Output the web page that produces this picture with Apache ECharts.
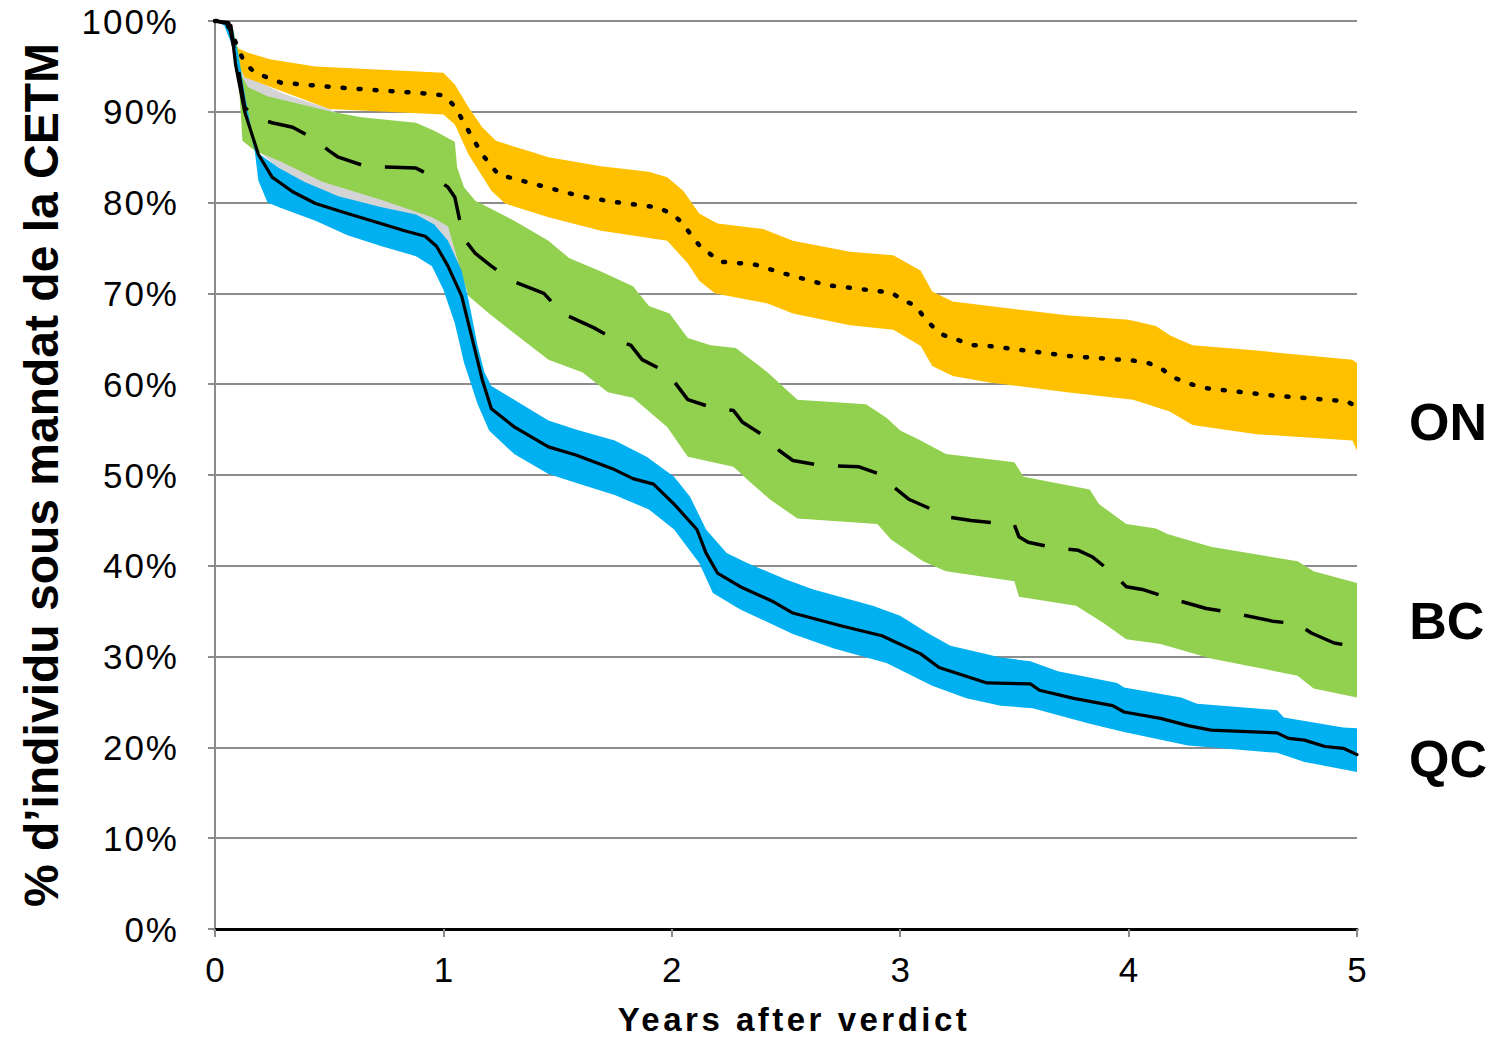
<!DOCTYPE html>
<html>
<head>
<meta charset="utf-8">
<script src="https://cdn.jsdelivr.net/npm/echarts@6/dist/echarts.min.js"></script>
<style>
html,body{margin:0;padding:0;background:#fff;overflow:hidden;}
#chart{width:1491px;height:1041px;}
</style>
</head>
<body>
<div id="chart"></div>
<script>
// ---- Data (years after verdict, % under mandate) ----
const onMid = [[0,100],[0.04,100],[0.07,99],[0.1,97],[0.13,95.4],[0.175,94.3],[0.29,93.2],[0.58,92.6],[0.93,92],[1.0,91.8],[1.05,90.6],[1.11,87.9],[1.17,85.3],[1.24,83.1],[1.39,82.1],[1.6,80.7],[1.74,80.1],[1.93,79.5],[2.0,78.8],[2.04,77.9],[2.08,76.6],[2.12,75.3],[2.21,73.5],[2.36,73.2],[2.49,72.2],[2.68,70.9],[2.96,70.1],[3.01,69.3],[3.07,68.6],[3.1,67.5],[3.14,66.4],[3.19,65.4],[3.32,64.3],[3.39,64.2],[3.74,63.1],[4.02,62.6],[4.09,62.3],[4.15,61.6],[4.2,60.7],[4.26,60.1],[4.33,59.6],[4.61,58.8],[4.96,58.1],[5,57.4]];
const onUpper = [[0,100],[0.05,100],[0.08,99],[0.1,97],[0.145,96.5],[0.24,95.8],[0.44,95],[1.0,94.3],[1.05,93],[1.11,90.5],[1.17,88.3],[1.23,86.8],[1.37,85.7],[1.46,85],[1.69,84],[1.9,83.4],[1.98,82.8],[2.05,81.3],[2.12,78.8],[2.2,77.7],[2.4,77.1],[2.53,75.8],[2.78,74.6],[2.97,74.2],[3.09,72.5],[3.14,70.2],[3.23,69.1],[3.39,68.6],[3.73,67.6],[4.0,67.1],[4.12,66.4],[4.18,65.4],[4.28,64.3],[4.56,63.7],[4.98,62.7],[5,62.3]];
const onLower = [[0,100],[0.05,99.5],[0.08,97],[0.1,95.5],[0.13,93.8],[0.5,90.3],[1.0,89.7],[1.05,88.6],[1.11,85.3],[1.21,81.3],[1.27,79.9],[1.46,78.4],[1.69,76.9],[1.98,75.8],[2.07,73.3],[2.12,71.4],[2.19,70],[2.42,68.9],[2.53,67.8],[2.78,66.5],[2.97,66],[3.09,64.2],[3.14,62],[3.23,60.9],[3.39,60.2],[3.73,59.1],[4.02,58.3],[4.18,57],[4.28,55.5],[4.56,54.5],[4.98,53.8],[5,52.7]];

const bcMid = [[0,100],[0.06,99.8],[0.1,95],[0.13,90.5],[0.18,89.3],[0.25,88.8],[0.34,88.3],[0.42,87.2],[0.5,85.7],[0.54,85],[0.66,84],[0.78,83.9],[0.88,83.8],[0.95,82.9],[1.02,81.7],[1.05,80.6],[1.07,78.2],[1.1,75.7],[1.14,74.4],[1.21,73],[1.3,71.4],[1.44,70],[1.52,67.8],[1.66,66.2],[1.76,64.8],[1.82,64.3],[1.87,62.7],[1.98,61.3],[2.07,58.3],[2.18,57.4],[2.27,57.1],[2.31,55.8],[2.41,54.2],[2.47,52.7],[2.53,51.6],[2.64,51.1],[2.82,50.9],[2.92,50],[2.96,48.9],[3.04,47.3],[3.14,46.2],[3.2,45.4],[3.31,45],[3.5,44.5],[3.52,43.2],[3.56,42.6],[3.67,42],[3.78,41.7],[3.84,41],[3.92,39.4],[3.99,37.7],[4.06,37.4],[4.17,36.5],[4.34,35.3],[4.46,34.8],[4.63,33.9],[4.74,33.6],[4.8,32.6],[4.9,31.5],[4.97,31.2]];
const bcUpper = [[0,100],[0.06,100],[0.1,97],[0.12,93.8],[0.145,92.7],[0.23,91.7],[0.51,90],[0.64,89.4],[0.88,88.8],[0.96,87.9],[1.05,86.7],[1.06,83.9],[1.09,81.7],[1.14,80.2],[1.31,78],[1.46,75.8],[1.55,73.9],[1.69,72.4],[1.83,70.8],[1.9,68.6],[1.99,67.8],[2.07,65.1],[2.17,64.3],[2.28,64],[2.42,61.3],[2.55,58.3],[2.85,57.8],[2.94,56.3],[3.0,54.9],[3.09,53.8],[3.2,52.3],[3.5,51.4],[3.54,49.8],[3.83,48.4],[3.87,46.8],[3.99,44.6],[4.12,44.1],[4.17,43.5],[4.36,42.1],[4.74,40.5],[4.81,39.4],[5,38.1]];
const bcLower = [[0,100],[0.06,99.5],[0.1,95],[0.12,86.8],[0.175,85.7],[0.28,84.6],[0.47,82.3],[0.73,80.3],[0.95,78.4],[1.02,77.4],[1.08,72.2],[1.11,69.7],[1.2,67.8],[1.31,65.6],[1.46,62.7],[1.61,61.3],[1.72,59.1],[1.83,58.5],[1.98,55.3],[2.07,52],[2.27,50.9],[2.33,49.5],[2.43,47.3],[2.55,45.2],[2.9,44.6],[2.96,42.9],[3.1,40.5],[3.2,39.4],[3.5,38.3],[3.52,36.6],[3.77,35.6],[3.89,33.7],[3.99,31.9],[4.14,31.4],[4.36,29.8],[4.74,27.9],[4.81,26.5],[5,25.5]];

const qcMid = [[0,100],[0.04,99.8],[0.07,99.5],[0.09,95.2],[0.13,90],[0.19,85.3],[0.25,82.8],[0.34,81.2],[0.44,79.9],[0.58,78.8],[0.7,77.9],[0.83,76.9],[0.92,76.3],[0.97,75.2],[1.02,73],[1.08,69.7],[1.13,64.6],[1.17,60.5],[1.21,57.3],[1.31,55.3],[1.46,53.1],[1.58,52.2],[1.74,50.7],[1.83,49.6],[1.92,49],[2.01,46.8],[2.11,44],[2.15,41.4],[2.2,39.2],[2.3,37.7],[2.44,36.1],[2.53,34.8],[2.74,33.4],[2.92,32.3],[3.09,30.3],[3.17,28.8],[3.38,27.1],[3.57,27],[3.61,26.3],[3.76,25.4],[3.93,24.6],[3.98,23.9],[4.14,23.2],[4.26,22.4],[4.36,21.9],[4.65,21.6],[4.7,21],[4.77,20.8],[4.86,20.1],[4.94,19.9],[5,19.2]];
const qcUpper = [[0,100],[0.05,100],[0.08,99],[0.1,96.5],[0.13,92],[0.16,88],[0.18,85.6],[0.28,83.8],[0.39,82.3],[0.54,80.7],[0.73,79.5],[0.88,78.7],[0.96,77.6],[1.02,75.8],[1.08,72.5],[1.11,69.3],[1.15,64.2],[1.18,61.3],[1.21,59.8],[1.31,58.3],[1.4,56.9],[1.46,56],[1.58,55],[1.75,53.8],[1.89,52],[2.01,49.8],[2.08,47.6],[2.15,44],[2.24,41.4],[2.33,40.3],[2.5,38.5],[2.62,37.4],[2.88,35.6],[3.0,34.5],[3.12,32.6],[3.22,31.2],[3.44,29.9],[3.57,29.5],[3.69,28.4],[3.95,27.1],[3.98,26.6],[4.23,25.5],[4.3,24.8],[4.65,24.1],[4.68,23.3],[4.94,22.2],[5,22.1]];
const qcLower = [[0,100],[0.04,99.5],[0.08,97],[0.12,92],[0.175,85.5],[0.19,82.4],[0.23,80],[0.28,79.5],[0.44,78],[0.58,76.4],[0.73,75.2],[0.88,74.1],[0.95,73],[1.0,70.4],[1.05,66.7],[1.09,62.4],[1.15,57.8],[1.2,54.9],[1.31,52.3],[1.46,50.1],[1.61,48.9],[1.75,47.8],[1.9,46.2],[2.01,44],[2.12,40.3],[2.18,37],[2.3,35.2],[2.53,32.5],[2.71,30.9],[2.94,29.3],[3.14,26.8],[3.29,25.4],[3.44,24.6],[3.58,24.3],[3.83,22.6],[3.98,21.7],[4.26,20.2],[4.65,19.4],[4.77,18.4],[5,17.3]];

const grayUpper = [[0.07,99],[0.1,97],[0.13,94],[0.3,92],[0.5,90.3],[0.55,89.7],[0.65,88.5],[1.0,86],[1.08,80]];
const grayLower = [[0.07,98.5],[0.1,95],[0.13,91],[0.2,85.5],[0.3,83.3],[0.5,80.8],[0.73,79.2],[0.88,78.4],[0.96,77.3],[1.02,75.5],[1.08,72]];

const regionNames = ['ON', 'BC', 'QC'];
const labelOffsets = [[52, 14], [59, -25], [52, 4]];

// ---- Chart ----
const chart = echarts.init(document.getElementById('chart'), null, {renderer: 'svg'});

function band(name, upper, lower, color, z) {
  return {
    type: 'custom', name: name, z: z, silent: true, clip: true,
    data: [upper[0]],
    encode: {x: 0, y: 1},
    renderItem: function (params, api) {
      const pts = upper.map(p => api.coord(p)).concat(lower.slice().reverse().map(p => api.coord(p)));
      return {type: 'polygon', shape: {points: pts}, style: {fill: color, stroke: null}};
    }
  };
}

function curve(name, data, dash, width, cap, idx) {
  return {
    type: 'line', name: name, data: data, z: 10, showSymbol: false, symbol: 'none',
    lineStyle: {color: '#000', width: width, type: dash, cap: cap, join: 'round'},
    endLabel: {
      show: true, formatter: name, distance: 0, offset: labelOffsets[idx],
      color: '#000', fontSize: 52, fontWeight: 'bold', fontFamily: 'Liberation Sans, Arial, sans-serif'
    },
    clip: false
  };
}

const font = 'Liberation Sans, Arial, sans-serif';

chart.setOption({
  animation: false,
  backgroundColor: '#fff',
  grid: {left: 215, right: 134, top: 21, bottom: 105, containLabel: false},
  xAxis: {
    type: 'value', min: 0, max: 5, interval: 1,
    name: 'Years after verdict', nameLocation: 'middle', nameGap: 74,
    nameTextStyle: {fontFamily: font, fontSize: 33, fontWeight: 'bold', color: '#000'},
    axisLine: {show: true, onZero: false, lineStyle: {color: '#000', width: 3}},
    axisTick: {show: true, length: 8, lineStyle: {color: '#8c8c8c', width: 2}},
    axisLabel: {fontFamily: font, fontSize: 35, color: '#000', margin: 23},
    splitLine: {show: false}
  },
  yAxis: {
    type: 'value', min: 0, max: 100, interval: 10,
    name: '% d\u2019individu sous mandat de la CETM', nameLocation: 'middle', nameGap: 150, nameRotate: 90,
    nameTextStyle: {fontFamily: font, fontSize: 48, fontWeight: 'bold', color: '#000'},
    axisLine: {show: true, lineStyle: {color: '#8c8c8c', width: 2}},
    axisTick: {show: true, length: 7, lineStyle: {color: '#8c8c8c', width: 2}},
    axisLabel: {fontFamily: font, fontSize: 35, color: '#000', margin: 36, formatter: '{value}%'},
    splitLine: {show: true, lineStyle: {color: '#8c8c8c', width: 2}}
  },
  series: [
    band('gray', grayUpper, grayLower, '#d4d4d4', 1),
    band('ON band', onUpper, onLower, '#ffc000', 2),
    band('BC band', bcUpper, bcLower, '#92d050', 3),
    band('QC band', qcUpper, qcLower, '#00b0f0', 4),
    curve(regionNames[0], onMid, [2, 14], 4.5, 'round', 0),
    curve(regionNames[1], bcMid, [40, 24], 3.5, 'butt', 1),
    curve(regionNames[2], qcMid, 'solid', 3.2, 'round', 2)
  ]
});

// letter spacing like the original (styling only, text stays text)
function spaceText() {
  document.querySelectorAll('#chart text').forEach(t => {
    const s = t.textContent;
    if (s === 'Years after verdict') {
      t.setAttribute('letter-spacing', '3.5');
      if (!t.dataset.shifted) {
        t.setAttribute('transform', (t.getAttribute('transform') || '') + ' translate(8,0)');
        t.dataset.shifted = '1';
      }
    } else if (/^\d+%$/.test(s)) {
      t.setAttribute('letter-spacing', '2');
    }
  });
}
spaceText();
chart.on('finished', spaceText);
</script>
</body>
</html>
